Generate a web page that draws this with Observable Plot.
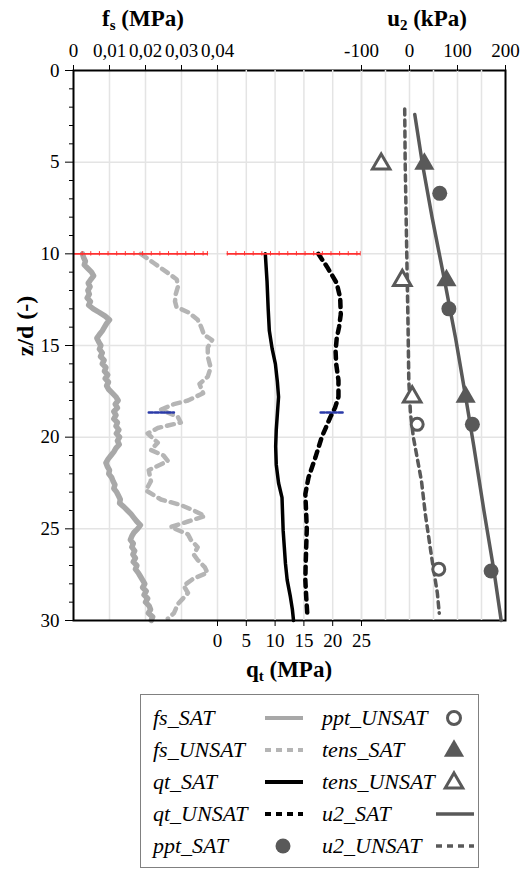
<!DOCTYPE html>
<html><head><meta charset="utf-8">
<script src="https://cdn.jsdelivr.net/npm/d3@7"></script>
<script src="https://cdn.jsdelivr.net/npm/@observablehq/plot@0.6"></script>
<style>
body{margin:0;background:#fff;font-family:"Liberation Serif","DejaVu Serif",serif;}
#wrap{position:relative;width:529px;height:872px;overflow:hidden;background:#fff}
.ttl{position:absolute;font-weight:bold;font-size:23px;white-space:nowrap;transform:translate(-50%,-50%);color:#000;font-family:"Liberation Serif",serif}
.ttl sub{font-size:15px;vertical-align:-4px}
#legend{position:absolute;left:140px;top:694px;width:339px;height:174px;border:1px solid #808080;box-sizing:border-box}
.lg{position:absolute;font-style:italic;font-size:22px;white-space:nowrap;transform:translateY(-50%);font-family:"Liberation Serif",serif}
.sw{position:absolute}
svg text{font-family:"Liberation Serif","DejaVu Serif",serif}
</style></head><body><div id="wrap"></div>
<script>
// ---------- data ----------
const zGridVals = [5, 10, 15, 20, 25];
const zMajor = [0, 5, 10, 15, 20, 25, 30];
const zMinor = [1,2,3,4,6,7,8,9,11,12,13,14,16,17,18,19,21,22,23,24,26,27,28,29];
const fsTicks = [0, 0.01, 0.02, 0.03, 0.04];
const fsGrid = [0.01, 0.02, 0.03, 0.04];
const qtTicks = [0, 5, 10, 15, 20, 25];
const qtGrid = [5, 10, 15, 20, 25];
const u2Ticks = [-100, 0, 100, 200];
const u2Grid = [-100, -50, 0, 50, 100, 150];

// fs_SAT (z, fs MPa)
const fsSatZ = [10.0,10.2,10.4,10.6,10.8,11.0,11.2,11.4,11.6,11.8,12.0,12.2,12.4,12.6,12.8,13.0,13.2,13.4,13.6,13.8,14.0,14.2,14.4,14.6,14.8,15.0,15.2,15.4,15.6,15.8,16.0,16.2,16.4,16.6,16.8,17.0,17.2,17.4,17.6,17.8,18.0,18.2,18.4,18.6,18.8,19.0,19.2,19.4,19.6,19.8,20.0,20.2,20.4,20.6,20.8,21.0,21.2,21.4,21.6,21.8,22.0,22.2,22.4,22.6,22.8,23.0,23.2,23.4,23.6,23.8,24.0,24.2,24.4,24.6,24.8,25.0,25.2,25.4,25.6,25.8,26.0,26.2,26.4,26.6,26.8,27.0,27.2,27.4,27.6,27.8,28.0,28.2,28.4,28.6,28.8,29.0,29.2,29.4,29.6,29.8,30.0];
const fsSatV = [0.0025,0.0028,0.0033,0.0030,0.0040,0.0050,0.0056,0.0048,0.0041,0.0046,0.0040,0.0044,0.0038,0.0047,0.0042,0.0055,0.0072,0.0088,0.0100,0.0092,0.0086,0.0080,0.0072,0.0065,0.0070,0.0076,0.0072,0.0080,0.0075,0.0085,0.0080,0.0090,0.0086,0.0095,0.0088,0.0097,0.0092,0.0098,0.0108,0.0118,0.0124,0.0116,0.0122,0.0112,0.0118,0.0112,0.0122,0.0118,0.0126,0.0119,0.0128,0.0122,0.0127,0.0118,0.0112,0.0104,0.0096,0.0090,0.0094,0.0100,0.0098,0.0106,0.0110,0.0115,0.0112,0.0120,0.0125,0.0130,0.0128,0.0140,0.0150,0.0160,0.0168,0.0176,0.0186,0.0178,0.0168,0.0162,0.0158,0.0166,0.0162,0.0170,0.0165,0.0172,0.0166,0.0176,0.0172,0.0180,0.0186,0.0192,0.0198,0.0192,0.0202,0.0196,0.0206,0.0200,0.0210,0.0214,0.0208,0.0220,0.0216];
// fs_UNSAT
const fsUnsZ = [10.0,10.5,11.0,11.4,11.8,12.2,12.6,12.9,13.2,13.6,14.0,14.4,14.7,15.1,15.6,16.2,16.7,17.1,17.6,18.0,18.2,18.5,18.9,19.2,19.5,19.8,20.3,20.7,21.0,21.3,21.8,22.4,22.9,23.4,23.7,24.0,24.3,24.6,24.9,25.3,25.6,26.0,26.4,26.7,27.1,27.4,27.7,28.1,28.5,29.1,29.6,29.9];
const fsUnsV = [0.0187,0.0223,0.0259,0.0287,0.0290,0.0284,0.0282,0.0286,0.0320,0.0345,0.0355,0.0362,0.0385,0.0373,0.0373,0.0381,0.0373,0.0350,0.0360,0.0318,0.0279,0.0243,0.0290,0.0298,0.0234,0.0206,0.0234,0.0215,0.0250,0.0262,0.0209,0.0215,0.0201,0.0243,0.0298,0.0334,0.0365,0.0318,0.0270,0.0318,0.0326,0.0345,0.0334,0.0345,0.0365,0.0372,0.0334,0.0306,0.0318,0.0290,0.0279,0.0262];
// qt_SAT (MPa)
const qtSatZ = [10,11.5,13,14.2,15.2,16,17,17.8,18.7,19.6,20.5,21.5,22.5,23.3,24.2,25.1,26,26.9,27.8,28.7,29.4,30];
const qtSatV = [8.3,8.6,8.8,9.0,9.5,10.05,10.4,10.6,10.4,10.2,10.1,10.2,10.6,11.2,11.3,11.4,11.6,11.8,12.1,12.65,13.0,13.2];
// qt_UNSAT
const qtUnsZ = [10,10.7,11.6,12.4,13.3,14,14.6,15.3,16,16.9,17.8,18.4,18.9,20,21.1,22.2,23.1,24.2,25,26,27,27.8,28.7,29.7];
const qtUnsV = [17.5,19,20.7,21.3,21.4,21.1,20.7,20.5,20.6,21,21,20.4,19.6,18.1,17,15.8,15.25,15.4,15.5,15.4,15.3,15.25,15.4,15.6];
// u2 (kPa)
const u2SatZ = [2.4,5.1,8,11.45,14.6,17.8,20.5,24,27.3,30];
const u2SatV = [11,27,47,73,96,117,134,155,176,191];
const u2UnsZ = [2.1,5,8,11,14,16.9,18.7,20,22.4,24.2,26.7,28.5,29.6];
const u2UnsV = [-10,-9,-7,-5,-3,-1.5,2,8,25,33,47,58,62];
const tensSatZ = [5.1, 11.45, 17.8];
const tensSatV = [31, 77, 117];
const tensUnsZ = [5.1, 11.45, 17.8];
const tensUnsV = [-59, -15, 5.6];
const pptSatZ = [6.7, 13.0, 19.3, 27.3];
const pptSatV = [63, 82, 131, 170];
const pptUnsZ = [19.3, 27.2];
const pptUnsV = [16, 61];
// reference line at z/d = 10 (red) and marker at z/d = 18.66 (blue)
const redZ = 10;
const redFs = [0,0.0024,0.0048,0.0072,0.0096,0.012,0.0144,0.0168,0.0192,0.0216,0.024,0.0264,0.0288,0.0312,0.0336,0.036,0.0372];
const redQt = [1.7,3.2,4.7,6.2,7.7,9.2,10.7,12.2,13.7,15.2,16.7,18.2,19.7,21.2,22.7,24.2,24.8];
const blueZ = 18.66;
const blueFs = [0.0209, 0.0279];
const blueQt = [17.9, 22.0];

const rows = (zs, vs, k) => zs.map((z, i) => ({z, [k]: vs[i]}));

// ---------- layout ----------
const FONT = '"Liberation Serif","DejaVu Serif",serif';
const W = 529, H = 690;
const common = {
  width: W, height: H, marginTop: 70, marginBottom: 70, marginLeft: 73, marginRight: 24,
  y: {domain: [0, 30], reverse: true},
  style: {fontFamily: FONT, fontSize: "19px", background: "transparent", color: "#000", overflow: "visible"}
};
const gridStyle = {stroke: "#e4e4e4", strokeOpacity: 1, strokeWidth: 1.5};
const GRAY = "#595959";
const RED = "#ff3030";
const redMarks = (data, key) => [
  Plot.line(data, {x: key, y: "z", stroke: RED, strokeWidth: 1.6}),
  Plot.ruleX(data, {x: key, y1: d => d.z - 0.12, y2: d => d.z + 0.12, stroke: RED, strokeWidth: 1})
];

// Plot A: fs (base, y axis, frame)
const fsRed = redFs.map(v => ({fs: v, z: redZ}));
const plotA = Plot.plot({
  ...common,
  x: {domain: [0, 0.12]},
  marks: [
    Plot.gridX(fsGrid, gridStyle),
    Plot.gridY(zGridVals, gridStyle),
    Plot.axisX(fsTicks, {anchor: "top", tickSize: 6, tickPadding: 8, label: null, fontSize: 19,
      tickFormat: d => d === 0 ? "0" : d.toFixed(2).replace(".", ",")}),
    Plot.axisY(zMajor, {anchor: "left", tickSize: 8, tickPadding: 6, label: null, fontSize: 19}),
    Plot.axisY(zMinor, {anchor: "left", tickSize: 4, tickFormat: () => "", label: null}),
    Plot.line(rows(fsSatZ, fsSatV, "fs"), {x: "fs", y: "z", stroke: "#a8a8a8", strokeWidth: 5.5, strokeLinejoin: "round"}),
    Plot.line(rows(fsUnsZ, fsUnsV, "fs"), {x: "fs", y: "z", stroke: "#b5b5b5", strokeWidth: 4.5, strokeDasharray: "7,6"}),
    ...redMarks(fsRed, "fs"),
    Plot.line(blueFs.map(v => ({fs: v, z: blueZ})), {x: "fs", y: "z", stroke: "#2a3aa8", strokeWidth: 2.5, strokeDasharray: "4,2"}),
    Plot.frame({stroke: "#000", strokeWidth: 2})
  ]
});

// Plot B: qt (bottom axis)
const qtRed = redQt.map(v => ({qt: v, z: redZ}));
const plotB = Plot.plot({
  ...common,
  y: {...common.y, axis: null},
  x: {domain: [-25, 50]},
  marks: [
    Plot.gridX(qtGrid, gridStyle),
    Plot.axisX(qtTicks, {anchor: "bottom", tickSize: 6, tickPadding: 7, label: null, fontSize: 19, tickFormat: d => String(d)}),
    Plot.line(rows(qtSatZ, qtSatV, "qt"), {x: "qt", y: "z", stroke: "#000", strokeWidth: 3.5}),
    Plot.line(rows(qtUnsZ, qtUnsV, "qt"), {x: "qt", y: "z", stroke: "#000", strokeWidth: 4.5, strokeDasharray: "7,6"}),
    ...redMarks(qtRed, "qt"),
    Plot.line(blueQt.map(v => ({qt: v, z: blueZ})), {x: "qt", y: "z", stroke: "#2a3aa8", strokeWidth: 2.5, strokeDasharray: "4,2"})
  ]
});

// Plot C: u2 (top-right axis)
const plotC = Plot.plot({
  ...common,
  y: {...common.y, axis: null},
  x: {domain: [-700, 200]},
  marks: [
    Plot.gridX(u2Grid, gridStyle),
    Plot.axisX(u2Ticks, {anchor: "top", tickSize: 6, tickPadding: 8, label: null, fontSize: 19, tickFormat: d => String(d)}),
    Plot.line(rows(u2SatZ, u2SatV, "u"), {x: "u", y: "z", stroke: GRAY, strokeWidth: 3.5}),
    Plot.line(rows(u2UnsZ, u2UnsV, "u"), {x: "u", y: "z", stroke: GRAY, strokeWidth: 3.5, strokeDasharray: "6,5"}),
    Plot.dot(rows(tensSatZ, tensSatV, "u"), {x: "u", y: "z", symbol: "triangle", r: 7.5, fill: GRAY, stroke: "none"}),
    Plot.dot(rows(tensUnsZ, tensUnsV, "u"), {x: "u", y: "z", symbol: "triangle", r: 6.5, fill: "white", stroke: GRAY, strokeWidth: 3}),
    Plot.dot(rows(pptSatZ, pptSatV, "u"), {x: "u", y: "z", symbol: "circle", r: 7.5, fill: GRAY, stroke: "none"}),
    Plot.dot(rows(pptUnsZ, pptUnsV, "u"), {x: "u", y: "z", symbol: "circle", r: 6, fill: "white", stroke: GRAY, strokeWidth: 3})
  ]
});

const wrap = document.getElementById("wrap");
for (const p of [plotA, plotB, plotC]) { p.style.position = "absolute"; p.style.left = "0"; p.style.top = "0"; wrap.appendChild(p); }

// axis titles
const titles = [
  {html: "f<sub>s</sub> (MPa)", x: 143, y: 20},
  {html: "u<sub>2</sub> (kPa)", x: 427, y: 20},
  {html: "q<sub>t</sub> (MPa)", x: 289, y: 671}
];
for (const t of titles) {
  const d = document.createElement("div"); d.className = "ttl"; d.innerHTML = t.html;
  d.style.left = t.x + "px"; d.style.top = t.y + "px"; wrap.appendChild(d);
}
const yl = document.createElement("div"); yl.className = "ttl"; yl.textContent = "z/d (-)";
yl.style.left = "25px"; yl.style.top = "326px"; yl.style.fontSize = "24px";
yl.style.transform = "translate(-50%,-50%) rotate(-90deg)";
wrap.appendChild(yl);

// legend
const legendItems = [
  {label: "fs_SAT", kind: "line", color: "#a8a8a8", dash: null, w: 4},
  {label: "fs_UNSAT", kind: "line", color: "#b5b5b5", dash: "6,5", w: 4},
  {label: "qt_SAT", kind: "line", color: "#000", dash: null, w: 4},
  {label: "qt_UNSAT", kind: "line", color: "#000", dash: "6,5", w: 4},
  {label: "ppt_SAT", kind: "dotFill"},
  {label: "ppt_UNSAT", kind: "dotOpen"},
  {label: "tens_SAT", kind: "triFill"},
  {label: "tens_UNSAT", kind: "triOpen"},
  {label: "u2_SAT", kind: "line", color: GRAY, dash: null, w: 3.5},
  {label: "u2_UNSAT", kind: "line", color: GRAY, dash: "6,5", w: 3.5}
];
const leg = document.createElement("div"); leg.id = "legend"; wrap.appendChild(leg);
const rowY = [23, 55, 87, 119, 151];
legendItems.forEach((it, i) => {
  const col = i < 5 ? 0 : 1, row = i % 5;
  const tx = col === 0 ? 12 : 181, sx = col === 0 ? 120 : 291;
  const t = document.createElement("div"); t.className = "lg"; t.textContent = it.label;
  t.style.left = tx + "px"; t.style.top = rowY[row] + "px"; leg.appendChild(t);
  const svg = d3.create("svg").attr("class", "sw").attr("width", 44).attr("height", 24)
    .style("left", sx + "px").style("top", (rowY[row] - 12) + "px");
  if (it.kind === "line") {
    svg.append("line").attr("x1", 4).attr("x2", 42).attr("y1", 12).attr("y2", 12)
      .attr("stroke", it.color).attr("stroke-width", it.w).attr("stroke-dasharray", it.dash);
  } else if (it.kind === "dotFill") {
    svg.append("circle").attr("cx", 22).attr("cy", 12).attr("r", 7.5).attr("fill", GRAY);
  } else if (it.kind === "dotOpen") {
    svg.append("circle").attr("cx", 22).attr("cy", 12).attr("r", 6.5).attr("fill", "none").attr("stroke", GRAY).attr("stroke-width", 3);
  } else if (it.kind === "triFill") {
    svg.append("path").attr("d", d3.symbol(d3.symbolTriangle, Math.PI * 7.5 * 7.5)()).attr("transform", "translate(22,13)").attr("fill", GRAY);
  } else {
    svg.append("path").attr("d", d3.symbol(d3.symbolTriangle, Math.PI * 6.5 * 6.5)()).attr("transform", "translate(22,13)").attr("fill", "none").attr("stroke", GRAY).attr("stroke-width", 3);
  }
  leg.appendChild(svg.node());
});
</script></body></html>
